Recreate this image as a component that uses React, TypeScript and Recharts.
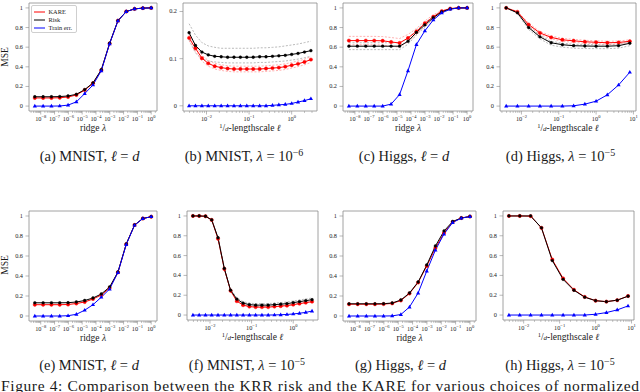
import React from 'react';
import { LineChart, Line, XAxis, YAxis, ReferenceArea, Legend } from 'recharts';

const SERIF = '"Liberation Serif", "DejaVu Serif", serif';
const RED = '#ff0000';
const BLACK = '#000000';
const BLUE = '#0000ff';
const AXIS = '#8a8a8a';
const INK = '#1a1a1a';
const RISK_BAND = '#9c9c9c';
const KARE_BAND = '#ff8f8f';

// x grids
const RIDGE_LAMBDA = [3.73e-9, 1.49e-8, 5.96e-8, 2.38e-7, 9.54e-7, 3.81e-6, 1.53e-5, 6.1e-5, 2.44e-4, 9.77e-4, 3.91e-3, 1.56e-2, 6.25e-2, 0.25, 1];
const LS_MNIST = [0.0039, 0.0055, 0.0078, 0.011, 0.0156, 0.0221, 0.0313, 0.0442, 0.0625, 0.0884, 0.125, 0.177, 0.25, 0.354, 0.5, 0.707, 1, 1.41, 2, 2.83];
const LS_HIGGS = [0.0039, 0.0078, 0.0156, 0.0313, 0.0625, 0.125, 0.25, 0.5, 1, 2, 4, 8];

const Y_TICKS_UNIT = [0, 0.2, 0.4, 0.6, 0.8, 1];
const Y_LABELS_UNIT = ['0', '0.2', '0.4', '0.6', '0.8', '1'];
const Y_TICKS_B = [0, 0.1, 0.2];
const Y_LABELS_B = ['0', '0.1', '0.2'];

// (a) MNIST, l = d
const A_KARE = [0.083, 0.083, 0.083, 0.085, 0.093, 0.113, 0.163, 0.232, 0.365, 0.637, 0.87, 0.963, 0.99, 0.998, 1.0];
const A_RISK = [0.095, 0.095, 0.095, 0.097, 0.103, 0.12, 0.168, 0.236, 0.37, 0.64, 0.87, 0.963, 0.99, 0.998, 1.0];
const A_TRAIN = [0, 0, 0, 0.001, 0.01, 0.043, 0.127, 0.215, 0.36, 0.635, 0.868, 0.962, 0.99, 0.998, 1.0];

// (b) MNIST, lambda = 1e-6
const B_KARE = [0.144, 0.122, 0.101, 0.09, 0.084, 0.081, 0.079, 0.078, 0.078, 0.078, 0.078, 0.078, 0.079, 0.08, 0.081, 0.083, 0.086, 0.089, 0.093, 0.098];
const B_RISK = [0.155, 0.128, 0.114, 0.108, 0.105, 0.104, 0.103, 0.103, 0.103, 0.103, 0.103, 0.104, 0.104, 0.105, 0.106, 0.107, 0.109, 0.111, 0.114, 0.117];
const B_TRAIN = [0, 0, 0, 0, 0, 0, 0, 0, 0, 0, 0, 0, 0, 0.001, 0.002, 0.003, 0.005, 0.008, 0.011, 0.015];
const B_RISK_UP = [0.174, 0.15, 0.134, 0.127, 0.124, 0.122, 0.122, 0.122, 0.122, 0.122, 0.122, 0.123, 0.123, 0.124, 0.125, 0.127, 0.129, 0.131, 0.134, 0.137];
const B_RISK_LO = [0.14, 0.112, 0.1, 0.095, 0.093, 0.092, 0.091, 0.091, 0.091, 0.091, 0.091, 0.092, 0.092, 0.093, 0.094, 0.095, 0.097, 0.099, 0.102, 0.105];
const B_KARE_UP = [0.15, 0.128, 0.107, 0.096, 0.09, 0.087, 0.085, 0.084, 0.084, 0.084, 0.084, 0.084, 0.085, 0.086, 0.087, 0.089, 0.092, 0.095, 0.099, 0.104];
const B_KARE_LO = [0.138, 0.116, 0.095, 0.084, 0.078, 0.075, 0.073, 0.072, 0.072, 0.072, 0.072, 0.072, 0.073, 0.074, 0.075, 0.077, 0.08, 0.083, 0.087, 0.092];

// (c) Higgs, l = d
const C_KARE = [0.667, 0.667, 0.667, 0.667, 0.665, 0.653, 0.643, 0.693, 0.76, 0.843, 0.91, 0.967, 0.993, 1.0, 1.0];
const C_RISK = [0.61, 0.61, 0.61, 0.61, 0.61, 0.61, 0.61, 0.66, 0.75, 0.827, 0.9, 0.96, 0.99, 1.0, 1.0];
const C_TRAIN = [0, 0, 0, 0, 0, 0.02, 0.117, 0.36, 0.627, 0.767, 0.877, 0.95, 0.987, 1.0, 1.0];
const C_KARE_UP = [0.71, 0.71, 0.71, 0.71, 0.708, 0.698, 0.688, 0.73, 0.79, 0.868, 0.93, 0.975, 0.995, 1.0, 1.0];
const C_KARE_LO = [0.625, 0.625, 0.625, 0.625, 0.622, 0.61, 0.6, 0.655, 0.73, 0.815, 0.89, 0.955, 0.99, 1.0, 1.0];
const C_RISK_UP = [0.645, 0.645, 0.645, 0.645, 0.645, 0.645, 0.645, 0.69, 0.775, 0.85, 0.915, 0.97, 0.993, 1.0, 1.0];
const C_RISK_LO = [0.575, 0.575, 0.575, 0.575, 0.575, 0.575, 0.575, 0.63, 0.725, 0.805, 0.885, 0.95, 0.987, 1.0, 1.0];

// (d) Higgs, lambda = 1e-5
const D_KARE = [1.0, 0.96, 0.83, 0.745, 0.7, 0.675, 0.665, 0.655, 0.65, 0.645, 0.648, 0.66];
const D_RISK = [1.0, 0.95, 0.8, 0.705, 0.645, 0.625, 0.615, 0.612, 0.61, 0.61, 0.615, 0.64];
const D_TRAIN = [0, 0, 0, 0, 0, 0, 0.003, 0.02, 0.05, 0.115, 0.215, 0.345];
const D_KARE_UP = [1.0, 0.965, 0.845, 0.76, 0.715, 0.69, 0.68, 0.67, 0.665, 0.66, 0.663, 0.675];
const D_KARE_LO = [1.0, 0.955, 0.815, 0.73, 0.685, 0.66, 0.65, 0.64, 0.635, 0.63, 0.633, 0.645];
const D_RISK_UP = [1.0, 0.955, 0.815, 0.72, 0.66, 0.64, 0.63, 0.627, 0.625, 0.625, 0.63, 0.655];
const D_RISK_LO = [1.0, 0.945, 0.78, 0.685, 0.62, 0.6, 0.59, 0.587, 0.585, 0.585, 0.59, 0.615];

// (e) MNIST, l = d
const E_KARE = [0.113, 0.113, 0.113, 0.113, 0.115, 0.125, 0.14, 0.17, 0.21, 0.28, 0.437, 0.718, 0.91, 0.975, 0.993];
const E_RISK = [0.132, 0.132, 0.132, 0.132, 0.133, 0.14, 0.155, 0.18, 0.22, 0.29, 0.44, 0.72, 0.91, 0.975, 0.993];
const E_TRAIN = [0, 0, 0, 0, 0.003, 0.017, 0.058, 0.113, 0.188, 0.27, 0.435, 0.715, 0.908, 0.975, 0.993];

// (f) MNIST, lambda = 1e-5
const F_KARE = [1.0, 1.0, 0.997, 0.96, 0.77, 0.465, 0.245, 0.14, 0.1, 0.085, 0.08, 0.08, 0.08, 0.085, 0.09, 0.095, 0.105, 0.115, 0.125, 0.135];
const F_RISK = [1.0, 1.0, 0.997, 0.96, 0.78, 0.47, 0.25, 0.16, 0.12, 0.105, 0.1, 0.1, 0.1, 0.105, 0.11, 0.115, 0.125, 0.135, 0.145, 0.155];
const F_TRAIN = [0, 0, 0, 0, 0, 0, 0, 0, 0, 0, 0, 0, 0, 0.001, 0.003, 0.006, 0.011, 0.018, 0.027, 0.04];
const F_RISK_UP = [1.0, 1.0, 0.998, 0.965, 0.79, 0.48, 0.26, 0.175, 0.135, 0.12, 0.115, 0.115, 0.116, 0.12, 0.126, 0.132, 0.142, 0.152, 0.162, 0.172];
const F_RISK_LO = [1.0, 1.0, 0.996, 0.955, 0.77, 0.46, 0.24, 0.145, 0.105, 0.09, 0.085, 0.085, 0.085, 0.09, 0.095, 0.1, 0.108, 0.118, 0.128, 0.138];

// (g) Higgs, l = d
const G_KARE = [0.118, 0.118, 0.118, 0.118, 0.119, 0.126, 0.155, 0.225, 0.335, 0.5, 0.68, 0.83, 0.94, 0.98, 0.995];
const G_RISK = [0.122, 0.122, 0.122, 0.122, 0.123, 0.13, 0.16, 0.23, 0.34, 0.51, 0.7, 0.85, 0.945, 0.98, 0.995];
const G_TRAIN = [0, 0, 0, 0, 0, 0.001, 0.015, 0.09, 0.23, 0.45, 0.66, 0.82, 0.935, 0.978, 0.995];

// (h) Higgs, lambda = 1e-5
const H_KARE = [1.0, 1.0, 0.998, 0.88, 0.56, 0.37, 0.255, 0.183, 0.145, 0.135, 0.15, 0.192];
const H_RISK = [1.0, 1.0, 1.0, 0.88, 0.55, 0.36, 0.25, 0.18, 0.145, 0.135, 0.15, 0.19];
const H_TRAIN = [0, 0, 0, 0, 0, 0, 0, 0, 0.008, 0.025, 0.052, 0.092];

const LEGEND_KEYS = ['kare', 'risk', 'train'];

type Box = { x: number; y: number; w: number; h: number };
type PanelDef = {
  id: string;
  box: Box;
  xs: number[];
  kare: number[];
  risk: number[];
  train: number[];
  riskUp?: number[];
  riskLo?: number[];
  kareUp?: number[];
  kareLo?: number[];
  yDomain: [number, number];
  yTicks: number[];
  yLabels: string[];
  xLabel: 'ridge' | 'ls';
  legend?: boolean;
};

const UNIT: [number, number] = [-0.05, 1.05];

const PANELS: PanelDef[] = [
  { id: 'a', box: { x: 29, y: 2.5, w: 128, h: 108 }, xs: RIDGE_LAMBDA, kare: A_KARE, risk: A_RISK, train: A_TRAIN, yDomain: UNIT, yTicks: Y_TICKS_UNIT, yLabels: Y_LABELS_UNIT, xLabel: 'ridge', legend: true },
  { id: 'b', box: { x: 183, y: 2.5, w: 134, h: 108 }, xs: LS_MNIST, kare: B_KARE, risk: B_RISK, train: B_TRAIN, riskUp: B_RISK_UP, riskLo: B_RISK_LO, kareUp: B_KARE_UP, kareLo: B_KARE_LO, yDomain: [-0.011, 0.218], yTicks: Y_TICKS_B, yLabels: Y_LABELS_B, xLabel: 'ls' },
  { id: 'c', box: { x: 343, y: 2.5, w: 130, h: 108 }, xs: RIDGE_LAMBDA, kare: C_KARE, risk: C_RISK, train: C_TRAIN, riskUp: C_RISK_UP, riskLo: C_RISK_LO, kareUp: C_KARE_UP, kareLo: C_KARE_LO, yDomain: UNIT, yTicks: Y_TICKS_UNIT, yLabels: Y_LABELS_UNIT, xLabel: 'ridge' },
  { id: 'd', box: { x: 500, y: 2.5, w: 136, h: 108 }, xs: LS_HIGGS, kare: D_KARE, risk: D_RISK, train: D_TRAIN, riskUp: D_RISK_UP, riskLo: D_RISK_LO, kareUp: D_KARE_UP, kareLo: D_KARE_LO, yDomain: UNIT, yTicks: Y_TICKS_UNIT, yLabels: Y_LABELS_UNIT, xLabel: 'ls' },
  { id: 'e', box: { x: 29, y: 210.5, w: 128, h: 110 }, xs: RIDGE_LAMBDA, kare: E_KARE, risk: E_RISK, train: E_TRAIN, yDomain: UNIT, yTicks: Y_TICKS_UNIT, yLabels: Y_LABELS_UNIT, xLabel: 'ridge' },
  { id: 'f', box: { x: 187, y: 210.5, w: 131, h: 109 }, xs: LS_MNIST, kare: F_KARE, risk: F_RISK, train: F_TRAIN, riskUp: F_RISK_UP, riskLo: F_RISK_LO, yDomain: UNIT, yTicks: Y_TICKS_UNIT, yLabels: Y_LABELS_UNIT, xLabel: 'ls' },
  { id: 'g', box: { x: 343, y: 210.5, w: 133, h: 110 }, xs: RIDGE_LAMBDA, kare: G_KARE, risk: G_RISK, train: G_TRAIN, yDomain: UNIT, yTicks: Y_TICKS_UNIT, yLabels: Y_LABELS_UNIT, xLabel: 'ridge' },
  { id: 'h', box: { x: 503, y: 210.5, w: 131, h: 109 }, xs: LS_HIGGS, kare: H_KARE, risk: H_RISK, train: H_TRAIN, yDomain: UNIT, yTicks: Y_TICKS_UNIT, yLabels: Y_LABELS_UNIT, xLabel: 'ls' },
];

const CAPTIONS = [
  { tag: '(a)', ds: 'MNIST', sym: 'ℓ', val: 'd', exp: '', cx: 89.5, y: 160.5 },
  { tag: '(b)', ds: 'MNIST', sym: 'λ', val: '10', exp: '−6', cx: 244, y: 160.5 },
  { tag: '(c)', ds: 'Higgs', sym: 'ℓ', val: 'd', exp: '', cx: 404, y: 160.5 },
  { tag: '(d)', ds: 'Higgs', sym: 'λ', val: '10', exp: '−5', cx: 560.5, y: 160.5 },
  { tag: '(e)', ds: 'MNIST', sym: 'ℓ', val: 'd', exp: '', cx: 89, y: 369.5 },
  { tag: '(f)', ds: 'MNIST', sym: 'λ', val: '10', exp: '−5', cx: 247, y: 369.5 },
  { tag: '(g)', ds: 'Higgs', sym: 'ℓ', val: 'd', exp: '', cx: 400.5, y: 369.5 },
  { tag: '(h)', ds: 'Higgs', sym: 'λ', val: '10', exp: '−5', cx: 560, y: 369.5 },
];

const FIGURE_TEXT = 'Figure 4: Comparison between the KRR risk and the KARE for various choices of normalized';

// matplotlib-like 5% margin on a log axis
function logDomain(xs: number[]): [number, number] {
  const a = Math.log10(xs[0]);
  const b = Math.log10(xs[xs.length - 1]);
  const m = (b - a) * 0.05;
  return [Math.pow(10, a - m), Math.pow(10, b + m)];
}

function logTicks([lo, hi]: [number, number]) {
  const out: number[] = [];
  for (let e = Math.floor(Math.log10(lo)); e <= Math.ceil(Math.log10(hi)); e++) {
    for (let k = 1; k < 10; k++) {
      const v = k * Math.pow(10, e);
      if (v >= lo && v <= hi) out.push(v);
    }
  }
  return out;
}

function renderXTick(props: any) {
  const { x, y, payload } = props;
  const v = Number(payload?.value);
  const lg = Math.log10(v);
  const e = Math.round(lg);
  if (Math.abs(lg - e) > 1e-6) {
    return <line x1={x} x2={x} y1={y} y2={y + 2} stroke={AXIS} strokeWidth={0.5} />;
  }
  return (
    <g>
      <line x1={x} x2={x} y1={y} y2={y + 3.5} stroke={AXIS} strokeWidth={0.6} />
      <text x={x} y={y + 10} textAnchor="middle" fontFamily={SERIF} fontSize={6.3} fill={INK}>
        10<tspan dy={-2.7} fontSize={4.5}>{e < 0 ? `−${-e}` : `${e}`}</tspan>
      </text>
    </g>
  );
}

function makeYTick(ticks: number[], labels: string[]) {
  return (props: any) => {
    const { x, y, payload } = props;
    const i = ticks.indexOf(payload?.value);
    return (
      <g>
        <line x1={x - 3.5} x2={x} y1={y} y2={y} stroke={AXIS} strokeWidth={0.6} />
        <text x={x - 6} y={y + 2} textAnchor="end" fontFamily={SERIF} fontSize={6.3} fill={INK}>
          {labels[i]}
        </text>
      </g>
    );
  };
}

const triangleDot = (props: any) => {
  const { cx, cy, index } = props;
  if (cx == null || cy == null) return <g key={`t${index}`} />;
  const s = 2.3;
  return (
    <path
      key={`t${index}`}
      d={`M${cx},${cy - s} L${cx + s * 0.9},${cy + s * 0.6} L${cx - s * 0.9},${cy + s * 0.6} Z`}
      fill={BLUE}
    />
  );
};

const renderLegend = (props: any) => {
  const items = (props.payload || []).filter((e: any) => LEGEND_KEYS.includes(e.dataKey));
  return (
    <div
      style={{
        width: 46, height: 28, boxSizing: 'border-box', border: '0.7px solid #cfcfcf', borderRadius: 2,
        background: 'rgba(255,255,255,0.85)', padding: '1.5px 0 0 2px', fontFamily: SERIF, fontSize: 6.4,
        lineHeight: '8.3px', color: INK,
      }}
    >
      {items.map((e: any) => (
        <div key={e.dataKey} style={{ display: 'flex', alignItems: 'center', height: 8.3 }}>
          <svg width={11} height={4} style={{ display: 'block' }}>
            <line x1={0} x2={11} y1={2} y2={2} stroke={e.color} strokeWidth={1} />
          </svg>
          <span style={{ marginLeft: 3.5 }}>{e.value}</span>
        </div>
      ))}
    </div>
  );
};

function XAxisTitle({ kind, cx, y }: { kind: 'ridge' | 'ls'; cx: number; y: number }) {
  if (kind === 'ridge') {
    return (
      <text x={cx} y={y} textAnchor="middle" fontFamily={SERIF} fontSize={9.5} fill={INK}>
        ridge <tspan fontStyle="italic">λ</tspan>
      </text>
    );
  }
  return (
    <text x={cx} y={y} textAnchor="middle" fontFamily={SERIF} fontSize={9.5} fill={INK}>
      <tspan fontSize={6.5} dy={-2.5}>1</tspan>
      <tspan dy={2.5}>/</tspan>
      <tspan fontSize={7} fontStyle="italic">d</tspan>
      {'-lengthscale '}
      <tspan fontStyle="italic">ℓ</tspan>
    </text>
  );
}

function Panel({ p }: { p: PanelDef }) {
  const rows = p.xs.map((x, i) => ({
    x,
    kare: p.kare[i],
    risk: p.risk[i],
    train: p.train[i],
    ru: p.riskUp ? p.riskUp[i] : null,
    rl: p.riskLo ? p.riskLo[i] : null,
    ku: p.kareUp ? p.kareUp[i] : null,
    kl: p.kareLo ? p.kareLo[i] : null,
  }));
  const xDomain = logDomain(p.xs);
  const xTicks = logTicks(xDomain);
  const W = p.box.w + 36;
  const H = p.box.h + 36;
  const axisY = 6 + p.box.h;
  const band = (key: string, color: string) => (
    <Line
      key={key}
      dataKey={key}
      stroke={color}
      strokeWidth={0.7}
      strokeDasharray="2 1.6"
      dot={false}
      activeDot={false}
      legendType="none"
      isAnimationActive={false}
    />
  );
  return (
    <div style={{ position: 'absolute', left: p.box.x - 30, top: p.box.y - 6 }}>
      <LineChart width={W} height={H} data={rows} margin={{ top: 6, right: 6, bottom: 0, left: 0 }}>
        <XAxis
          dataKey="x"
          type="number"
          scale="log"
          domain={xDomain}
          allowDataOverflow
          ticks={xTicks}
          interval={0}
          tick={renderXTick}
          tickLine={false}
          axisLine={false}
          tickSize={0}
          tickMargin={0}
          height={30}
          label={{ content: () => <XAxisTitle kind={p.xLabel} cx={30 + p.box.w / 2} y={axisY + 19.5} /> }}
        />
        <YAxis
          type="number"
          domain={p.yDomain}
          allowDataOverflow
          ticks={p.yTicks}
          interval={0}
          tick={makeYTick(p.yTicks, p.yLabels)}
          tickLine={false}
          axisLine={false}
          tickSize={0}
          tickMargin={0}
          width={30}
        />
        {p.riskUp && band('ru', RISK_BAND)}
        {p.riskLo && band('rl', RISK_BAND)}
        {p.kareUp && band('ku', KARE_BAND)}
        {p.kareLo && band('kl', KARE_BAND)}
        <Line
          dataKey="kare"
          name="KARE"
          stroke={RED}
          strokeWidth={1}
          dot={{ r: 1.7, fill: RED, stroke: RED, strokeWidth: 0.4 }}
          activeDot={false}
          isAnimationActive={false}
        />
        <Line
          dataKey="risk"
          name="Risk"
          stroke={BLACK}
          strokeWidth={1}
          dot={{ r: 1.4, fill: BLACK, stroke: BLACK, strokeWidth: 0.4 }}
          activeDot={false}
          isAnimationActive={false}
        />
        <Line
          dataKey="train"
          name="Train err."
          stroke={BLUE}
          strokeWidth={1}
          dot={triangleDot}
          activeDot={false}
          isAnimationActive={false}
        />
        <ReferenceArea
          x1={xDomain[0]}
          x2={xDomain[1]}
          y1={p.yDomain[0]}
          y2={p.yDomain[1]}
          fill="none"
          fillOpacity={0}
          stroke={AXIS}
          strokeWidth={0.8}
          ifOverflow="visible"
        />
        {p.legend && (
          <Legend
            layout="vertical"
            align="center"
            verticalAlign="middle"
            wrapperStyle={{ left: 32, top: 8.5, width: 46 }}
            content={renderLegend}
          />
        )}
      </LineChart>
    </div>
  );
}

export default function App() {
  return (
    <div style={{ position: 'fixed', left: 0, top: 0, width: 640, height: 392, background: '#fff', overflow: 'hidden' }}>
      {PANELS.map((p) => (
        <Panel key={p.id} p={p} />
      ))}
      <svg width={640} height={392} style={{ position: 'absolute', left: 0, top: 0, pointerEvents: 'none' }}>
        <text transform="translate(7.5,57) rotate(-90)" textAnchor="middle" fontFamily={SERIF} fontSize={9.5} fill={INK}>
          MSE
        </text>
        <text transform="translate(7.5,265) rotate(-90)" textAnchor="middle" fontFamily={SERIF} fontSize={9.5} fill={INK}>
          MSE
        </text>
        {CAPTIONS.map((c) => (
          <text key={c.tag} x={c.cx} y={c.y} textAnchor="middle" fontFamily={SERIF} fontSize={14.5} fill={INK}>
            {`${c.tag} ${c.ds}, `}
            <tspan fontStyle="italic">{c.sym}</tspan>
            {' = '}
            {c.exp ? (
              <>
                {c.val}
                <tspan dy={-5} fontSize={10}>{c.exp}</tspan>
              </>
            ) : (
              <tspan fontStyle="italic">{c.val}</tspan>
            )}
          </text>
        ))}
        <text x={1} y={390.5} fontFamily={SERIF} fontSize={15.5} fill={INK} textLength={638} lengthAdjust="spacing">
          {FIGURE_TEXT}
        </text>
      </svg>
    </div>
  );
}
